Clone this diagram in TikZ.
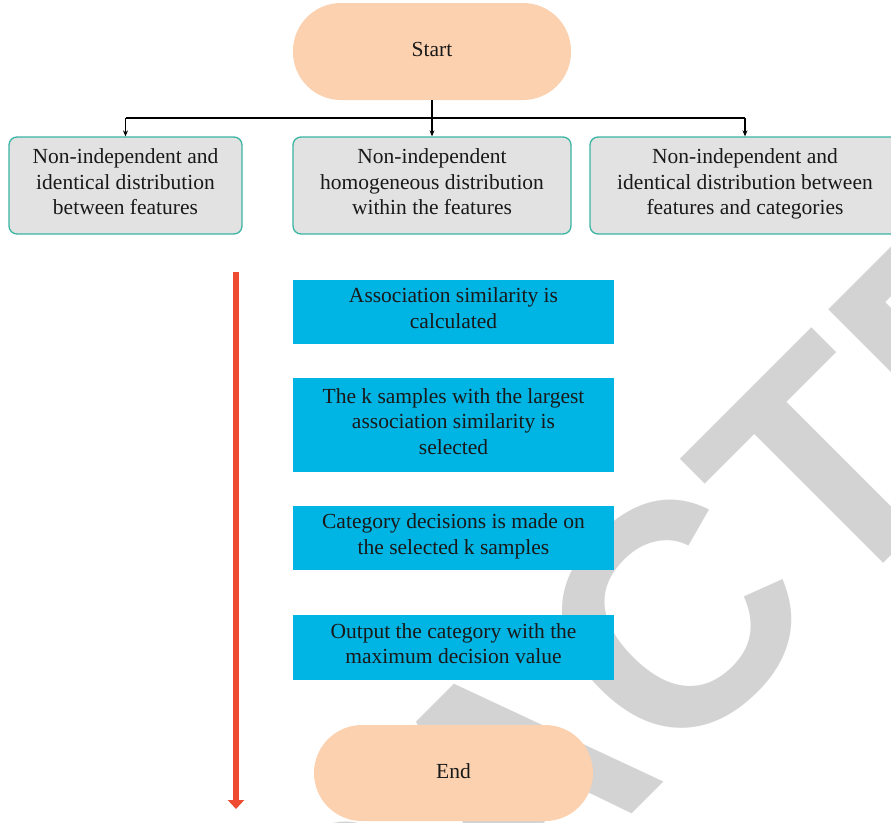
\documentclass[tikz,border=0pt]{standalone}
\usepackage{fontspec}
\setmainfont{Liberation Serif}
\newfontfamily\wmfont{Liberation Sans}
\usetikzlibrary{arrows.meta}
\definecolor{peach}{RGB}{251,209,175}
\definecolor{panelgrey}{RGB}{225,226,225}
\definecolor{tealedge}{RGB}{58,181,165}
\definecolor{stepblue}{RGB}{0,180,228}
\definecolor{flowred}{RGB}{238,75,48}
\definecolor{wmgrey}{RGB}{211,211,211}

\begin{document}
\begin{tikzpicture}[x=1pt,y=-1pt,
  txt/.style={font=\fontsize{21.5}{25.5}\selectfont, align=center, text=black!90, inner sep=0pt,
    execute at begin node=\strut, execute at end node=\strut},
  terminal/.style={txt, fill=peach, rounded corners=48pt, minimum height=97pt},
  panel/.style={txt, fill=panelgrey, draw=tealedge, line width=1.3pt, rounded corners=8pt, minimum height=97pt},
  stepbox/.style={txt, fill=stepblue, minimum width=321pt},
  link/.style={black, line width=1.1pt},
  wm/.style={text=wmgrey, font=\wmfont\bfseries\fontsize{316}{316}\selectfont, inner sep=0pt}]

% canvas
\useasboundingbox (0,0) rectangle (891,822);
\clip (0,0) rectangle (891,822);
\fill[white] (0,0) rectangle (891,822);

% diagonal stamp behind the chart
\node[wm, anchor=base west, rotate=45] (stamp) at (-100,1546) {RETRACTED};

% start and the three distribution types
\node[terminal, minimum width=278pt] (start) at (432,51.5) {Start};
\node[panel, minimum width=233pt] (p1) at (125.5,185.5) {Non-independent and\\identical distribution\\between features};
\node[panel, minimum width=278pt] (p2) at (432,185.5) {Non-independent\\homogeneous distribution\\within the features};
\node[panel, minimum width=310pt] (p3) at (745,185.5) {Non-independent and\\identical distribution between\\features and categories};

% branching connector
\coordinate (split) at (432,118);
\draw[link] (start.south) -- (split);
\draw[link] (p1.north |- split) -- (p3.north |- split);
\foreach \p in {p1,p2,p3}
  \draw[link, -{Stealth[length=6pt,width=5pt]}] (\p.north |- split) -- (\p.north);

% processing steps
\node[stepbox, minimum height=64pt] (s1) at (453.5,312) {Association similarity is\\calculated};
\node[stepbox, minimum height=94pt] (s2) at (453.5,425) {The k samples with the largest\\association similarity is\\selected};
\node[stepbox, minimum height=64pt] (s3) at (453.5,538) {Category decisions is made on\\the selected k samples};
\node[stepbox, minimum height=65pt] (s4) at (453.5,647.5) {Output the category with the\\maximum decision value};

\node[terminal, minimum width=279pt, minimum height=96pt] (end) at (453.5,773) {End};

% flow direction arrow
\coordinate (flowtop) at (236,272);
\coordinate (flowend) at (236,809);
\draw[flowred, line width=6pt, -{Triangle[length=9pt,width=16pt]}] (flowtop) -- (flowend);
\end{tikzpicture}
\end{document}
